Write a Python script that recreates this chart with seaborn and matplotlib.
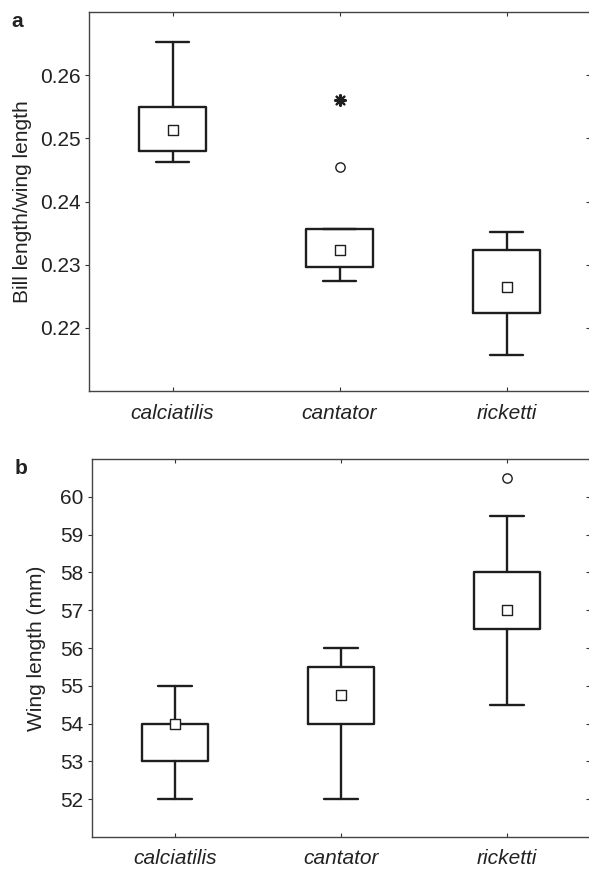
"""
Box plots of bill/wing ratio and wing length for three taxa (panels a and b).
Box statistics are read off the published figure, drawn with seaborn styling.
"""
import numpy as np
import pandas as pd
import matplotlib
matplotlib.use("Agg")
import matplotlib.pyplot as plt
import seaborn as sns

sns.set_theme(style="ticks")
plt.rcParams['font.family'] = ['Liberation Sans', 'DejaVu Sans']

species = ["calciatilis", "cantator", "ricketti"]

# panel a: bill length / wing length
ratio_whislo = [0.2462, 0.2274, 0.2157]
ratio_q1 = [0.2480, 0.2296, 0.2223]
ratio_med = [0.2513, 0.2324, 0.2265]
ratio_q3 = [0.2550, 0.2357, 0.2323]
ratio_whishi = [0.2653, 0.2357, 0.2351]
ratio_outlier_x = ["cantator"]
ratio_outlier_y = [0.2455]
ratio_extreme_x = ["cantator"]
ratio_extreme_y = [0.2561]
ratio_ticks = [0.22, 0.23, 0.24, 0.25, 0.26]

# panel b: wing length (mm)
wing_whislo = [52.0, 52.0, 54.5]
wing_q1 = [53.0, 54.0, 56.5]
wing_med = [54.0, 54.75, 57.0]
wing_q3 = [54.0, 55.5, 58.0]
wing_whishi = [55.0, 56.0, 59.5]
wing_outlier_x = ["ricketti"]
wing_outlier_y = [60.5]
wing_ticks = [52, 53, 54, 55, 56, 57, 58, 59, 60]

INK = "#1e1e1e"
TXT = "#222222"
FS = 15
W, H = 589, 869


def draw_panel(ax, whislo, q1, med, q3, whishi, out_x, out_y, ext_x, ext_y,
               ticks, ylim, ylabel, letter, tickfmt, labelpad):
    stats = []
    for i, name in enumerate(species):
        stats.append(dict(label=name, whislo=whislo[i], q1=q1[i], med=med[i],
                          q3=q3[i], whishi=whishi[i], fliers=[]))
    lw = 1.7
    ax.bxp(stats, positions=range(len(species)), widths=0.4, showfliers=False,
           boxprops=dict(color=INK, linewidth=lw),
           whiskerprops=dict(color=INK, linewidth=lw),
           capprops=dict(color=INK, linewidth=lw),
           medianprops=dict(visible=False), capwidths=0.2)

    idx = {n: i for i, n in enumerate(species)}
    med_df = pd.DataFrame({"x": range(len(species)), "y": med})
    sns.scatterplot(data=med_df, x="x", y="y", ax=ax, marker="s", s=50,
                    facecolor="white", edgecolor=INK, linewidth=1.0, zorder=5)
    if out_x:
        out_df = pd.DataFrame({"x": [idx[n] for n in out_x], "y": out_y})
        sns.scatterplot(data=out_df, x="x", y="y", ax=ax, marker="o", s=45,
                        facecolor="white", edgecolor=INK, linewidth=1.0, zorder=5)
    if ext_x:
        ext_df = pd.DataFrame({"x": [idx[n] for n in ext_x], "y": ext_y})
        sns.scatterplot(data=ext_df, x="x", y="y", ax=ax, marker=(8, 2, 0), s=60,
                        color=INK, linewidth=1.6, zorder=5)

    ax.set_xlim(-0.5, len(species) - 0.5)
    ax.set_ylim(*ylim)
    ax.set_xticks(range(len(species)))
    ax.set_xticklabels(species, fontstyle="italic", fontsize=FS, color=TXT)
    ax.set_yticks(ticks)
    ax.set_yticklabels([tickfmt(t) for t in ticks], fontsize=FS, color=TXT)
    ax.set_xlabel("")
    ax.set_ylabel(ylabel, fontsize=FS, labelpad=labelpad, color=TXT)

    for s in ax.spines.values():
        s.set_visible(True)
        s.set_color("#444444")
        s.set_linewidth(1.0)
    ax.tick_params(axis="x", direction="in", top=True, bottom=True, length=3,
                   width=0.8, color="#333333", pad=9)
    ax.tick_params(axis="y", direction="out", left=True, length=3, width=0.8,
                   color="#333333", pad=3)
    sec = ax.secondary_yaxis("right")
    sec.set_yticks(ticks)
    sec.tick_params(direction="in", length=3, width=0.8, color="#333333",
                    labelright=False)
    sec.spines["right"].set_color("#444444")

    ax.text(-0.155, 1.0, letter, transform=ax.transAxes, fontsize=15,
            fontweight="bold", ha="left", va="top", color=TXT)


fig = plt.figure(figsize=(W / 100, H / 100), dpi=100)
ax_a = fig.add_axes([89 / W, 1 - 391 / H, (590 - 89) / W, (391 - 12) / H])
ax_b = fig.add_axes([92 / W, 1 - 837 / H, (590 - 92) / W, (837 - 459) / H])

draw_panel(ax_a, ratio_whislo, ratio_q1, ratio_med, ratio_q3, ratio_whishi,
           ratio_outlier_x, ratio_outlier_y, ratio_extreme_x, ratio_extreme_y,
           ratio_ticks, (0.21, 0.27), "Bill length/wing length", "a",
           lambda t: f"{t:.2f}", 6)
draw_panel(ax_b, wing_whislo, wing_q1, wing_med, wing_q3, wing_whishi,
           wing_outlier_x, wing_outlier_y, [], [],
           wing_ticks, (51, 61), "Wing length (mm)", "b",
           lambda t: f"{t:d}", 10)

fig.savefig("out.png", dpi=100)
